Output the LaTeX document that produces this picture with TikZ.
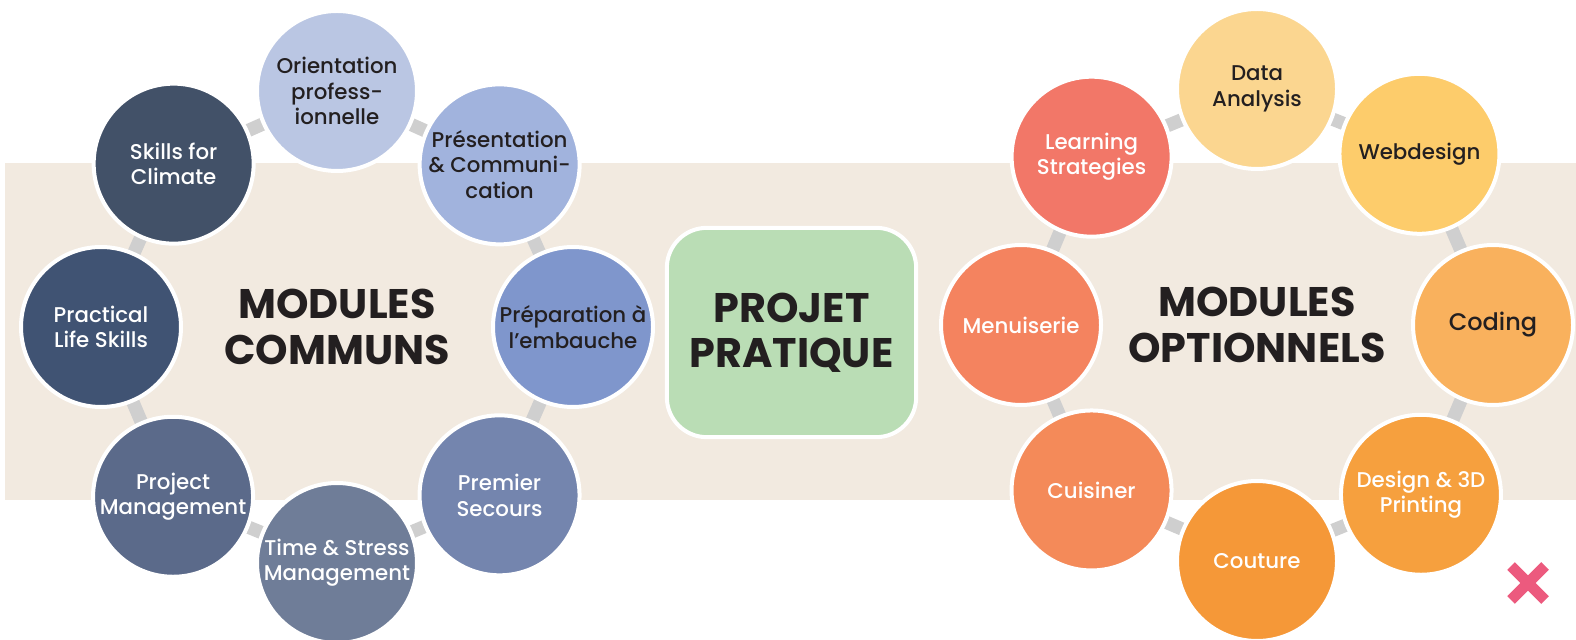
\documentclass[tikz,border=0pt]{standalone}
\usepackage{fontspec}
\setmainfont{Poppins}
\newfontfamily\modfont{Poppins Medium}
\usepackage{tikz}
\usetikzlibrary{shapes,positioning,calc,backgrounds}

\definecolor{bandbeige}{HTML}{F2EAE0}
\definecolor{linkgray}{HTML}{CFCFCF}
\definecolor{textdark}{HTML}{231F20}
\definecolor{projgreen}{HTML}{BADDB5}
\definecolor{pinkx}{HTML}{EC5A7E}
% communs
\definecolor{orientation-c}{HTML}{BAC6E3}
\definecolor{presentation-c}{HTML}{A1B3DD}
\definecolor{preparation-c}{HTML}{7F96CC}
\definecolor{secours-c}{HTML}{7485AE}
\definecolor{stress-c}{HTML}{6F7D98}
\definecolor{project-c}{HTML}{5B6A8A}
\definecolor{practical-c}{HTML}{405373}
\definecolor{climate-c}{HTML}{425168}
% optionnels
\definecolor{data-c}{HTML}{FBD690}
\definecolor{web-c}{HTML}{FDCC6B}
\definecolor{coding-c}{HTML}{F9B15D}
\definecolor{design-c}{HTML}{F6A03E}
\definecolor{couture-c}{HTML}{F59838}
\definecolor{cuisiner-c}{HTML}{F48A59}
\definecolor{menuiserie-c}{HTML}{F4835F}
\definecolor{learning-c}{HTML}{F27768}

\begin{document}
\begin{tikzpicture}[
    x=0.75pt, y=0.75pt,
    module/.style={circle, draw=white, line width=3pt, minimum size=120pt, inner sep=0pt, align=center, font=\modfont\fontsize{16}{19}\selectfont},
    darktext/.style={text=textdark},
    lighttext/.style={text=white},
    title/.style={align=center, text=textdark, font=\fontsize{31}{34}\selectfont\bfseries},
    projet/.style={rectangle, draw=white, fill=projgreen, line width=3pt, rounded corners=30pt, minimum width=187pt, minimum height=157pt, align=center, text=textdark, font=\fontsize{31}{34}\selectfont\bfseries},
    band/.style={fill=bandbeige},
    link/.style={draw=linkgray, line width=10pt},
    pinkcross/.style={draw=pinkx, line width=8pt}
]
\useasboundingbox (0,0) rectangle (1576,639);

% ============ BANDE ============
\begin{scope}[on background layer]
\fill[band] (5,139) rectangle (1576,476);
\end{scope}

% ============ MODULES COMMUNS ============
\node[title] (communs) at (337,312) {MODULES\\COMMUNS};

\node[module, fill=orientation-c, darktext] (orientation) at ($(communs)+(90:236)$) {Orientation\\profess-\\ionnelle};
\node[module, fill=presentation-c, darktext] (presentation) at ($(communs)+(45:230)$) {Présentation\\\& Communi-\\cation};
\node[module, fill=preparation-c, darktext] (preparation) at ($(communs)+(0:236)$) {Préparation à\\l’embauche};
\node[module, fill=secours-c, lighttext] (secours) at ($(communs)+(-46:234)$) {Premier\\Secours};
\node[module, fill=stress-c, lighttext] (stress) at ($(communs)+(-90:236)$) {Time \& Stress\\Management};
\node[module, fill=project-c, lighttext] (project) at ($(communs)+(-134:236)$) {Project\\Management};
\node[module, fill=practical-c, lighttext] (practical) at ($(communs)+(180:236)$) {Practical\\Life Skills};
\node[module, fill=climate-c, lighttext] (climate) at ($(communs)+(135:231)$) {Skills for\\Climate};

% ============ PROJET PRATIQUE ============
\node[projet] (projet-pratique) at (791.5,306.5) {PROJET\\PRATIQUE};

% ============ MODULES OPTIONNELS ============
\node[title] (optionnels) at (1257,314) {MODULES\\OPTIONNELS};

\node[module, fill=data-c, darktext] (data) at ($(optionnels)+(90:236)$) {Data\\Analysis};
\node[module, fill=web-c, darktext] (webdesign) at ($(optionnels)+(46.5:236)$) {Webdesign};
\node[module, fill=coding-c, darktext, font=\modfont\fontsize{18}{21}\selectfont] (coding) at ($(optionnels)+(0:236)$) {Coding};
\node[module, fill=design-c, lighttext] (design) at ($(optionnels)+(-46:236)$) {Design \& 3D\\Printing};
\node[module, fill=couture-c, lighttext] (couture) at ($(optionnels)+(-90:236)$) {Couture};
\node[module, fill=cuisiner-c, lighttext] (cuisiner) at ($(optionnels)+(-135:234)$) {Cuisiner};
\node[module, fill=menuiserie-c, lighttext] (menuiserie) at ($(optionnels)+(180:236)$) {Menuiserie};
\node[module, fill=learning-c, lighttext] (learning) at ($(optionnels)+(134.5:236)$) {Learning\\Strategies};

% ============ LIAISONS ============
\begin{scope}[on background layer]
% anneau communs
\draw[link] (orientation.center) -- (presentation.center);
\draw[link] (presentation.center) -- (preparation.center);
\draw[link] (preparation.center) -- (secours.center);
\draw[link] (secours.center) -- (stress.center);
\draw[link] (stress.center) -- (project.center);
\draw[link] (project.center) -- (practical.center);
\draw[link] (practical.center) -- (climate.center);
\draw[link] (climate.center) -- (orientation.center);
% anneau optionnels
\draw[link] (data.center) -- (webdesign.center);
\draw[link] (webdesign.center) -- (coding.center);
\draw[link] (coding.center) -- (design.center);
\draw[link] (design.center) -- (couture.center);
\draw[link] (couture.center) -- (cuisiner.center);
\draw[link] (cuisiner.center) -- (menuiserie.center);
\draw[link] (menuiserie.center) -- (learning.center);
\draw[link] (learning.center) -- (data.center);
\end{scope}

% ============ CROIX ============
\coordinate (croix) at (1528,56);
\draw[pinkcross] ($(croix)+(-17,-17)$) -- ($(croix)+(17,17)$);
\draw[pinkcross] ($(croix)+(-17,17)$) -- ($(croix)+(17,-17)$);

\end{tikzpicture}
\end{document}
